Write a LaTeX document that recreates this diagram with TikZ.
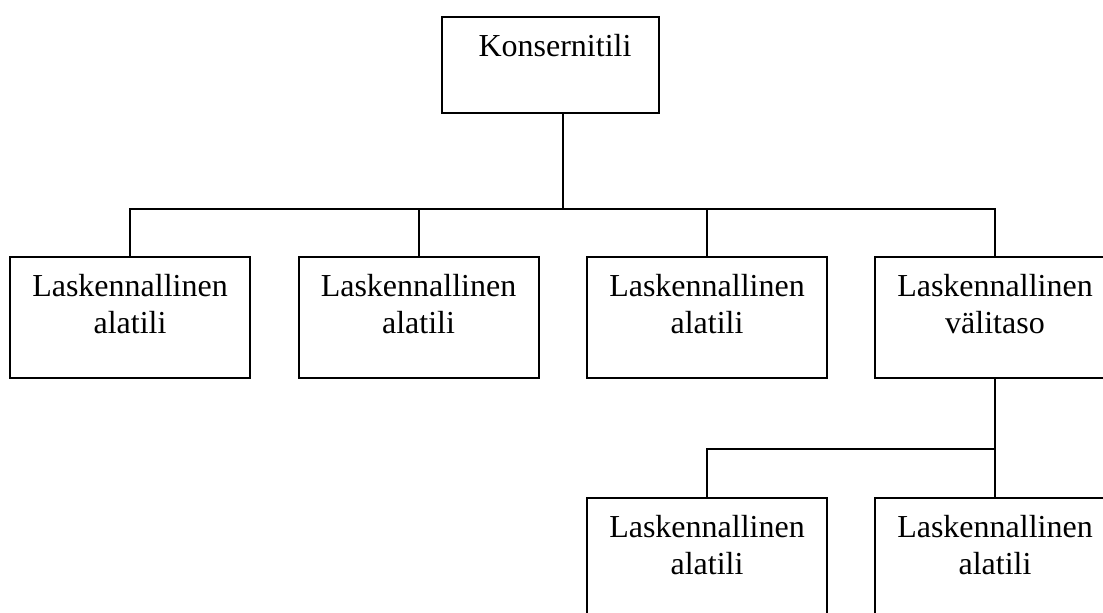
\documentclass[tikz,border=0pt]{standalone}
\usepackage{fontspec}
\setmainfont{Liberation Serif}
\begin{document}
\begin{tikzpicture}[x=0.75pt,y=-0.75pt,
  box/.style={draw, line width=1.5pt, inner sep=0pt,
    minimum width=240*0.75pt, minimum height=121*0.75pt},
  lbl/.style={font=\fontsize{24}{27.5}\selectfont, align=center,
    inner sep=0pt, anchor=base},
  link/.style={line width=1.5pt}]
\useasboundingbox (0,0) rectangle (1103,613);
\clip (0,0) rectangle (1103,613);

% parent account
\node[box, minimum width=217*0.75pt, minimum height=96*0.75pt] (top) at (550.5,65) {};
\node[lbl] (topT) at (555,57) {Konsernitili};

% first level (labels anchored on the baseline of their last line)
\node[box] (b1) at (130,317.5) {};
\node[box] (b2) at (418.5,317.5) {};
\node[box] (b3) at (707,317.5) {};
\node[box] (b4) at (995,317.5) {};
\node[lbl] (b1T) at (130,333) {Laskennallinen\\alatili};
\node[lbl] (b2T) at (418.5,333) {Laskennallinen\\alatili};
\node[lbl] (b3T) at (707,333) {Laskennallinen\\alatili};
\node[lbl] (b4T) at (995,333) {Laskennallinen\\välitaso};

% second level
\node[box] (b5) at (707,558.5) {};
\node[box] (b6) at (995,558.5) {};
\node[lbl] (b5T) at (707,574) {Laskennallinen\\alatili};
\node[lbl] (b6T) at (995,574) {Laskennallinen\\alatili};

% connectors
\coordinate (bus) at (563,209);
\coordinate (bus2) at (995,449);
\draw[link] (top.south -| bus) -- (bus);
\draw[link] (b1.north) -- (b1.north |- bus) -- (b4.north |- bus) -- (b4.north);
\draw[link] (b2.north) -- (b2.north |- bus);
\draw[link] (b3.north) -- (b3.north |- bus);
\draw[link] (b4.south) -- (b6.north);
\draw[link] (b5.north) -- (b5.north |- bus2) -- (bus2);
\end{tikzpicture}
\end{document}
